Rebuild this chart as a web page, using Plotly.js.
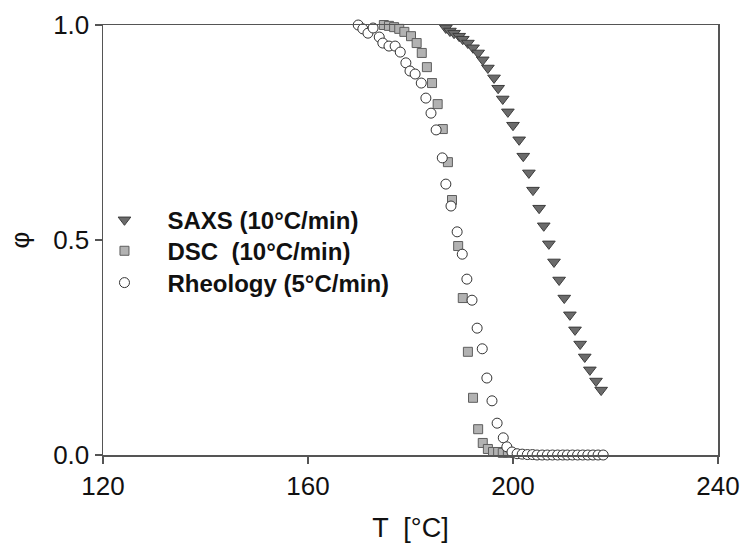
<!DOCTYPE html>
<html>
<head>
<meta charset="utf-8">
<script src="https://cdn.plot.ly/plotly-3.0.1.min.js"></script>
<style>html,body{margin:0;padding:0;background:#fff;}#chart{width:743px;height:553px;}</style>
</head>
<body>
<div id="chart"></div>
<script>
// SAXS (10°C/min)
const saxsT = [186.9,187.7,188.5,189.5,190.2,191.2,192.2,193.2,194.1,195.1,196.3,197.1,198.0,199.0,200.0,201.2,202.0,203.1,203.9,205.1,206.0,207.0,208.0,209.0,210.0,211.1,212.1,213.1,214.0,215.0,216.2,217.2];
const saxsPhi = [0.993,0.986,0.981,0.974,0.967,0.958,0.947,0.935,0.919,0.900,0.877,0.853,0.828,0.798,0.767,0.733,0.695,0.656,0.616,0.574,0.533,0.491,0.449,0.407,0.365,0.326,0.291,0.258,0.228,0.198,0.172,0.151];

// DSC (10°C/min)
const dscT = [174.8,175.8,176.8,177.8,178.8,180.1,181.2,182.2,183.2,184.2,185.3,186.3,187.3,188.1,189.3,190.2,191.2,192.2,193.2,194.1,195.1,196.1,197.1,198.0,199.0];
const dscPhi = [1.000,0.998,0.995,0.991,0.984,0.974,0.958,0.935,0.902,0.865,0.816,0.758,0.681,0.593,0.486,0.365,0.240,0.133,0.060,0.028,0.014,0.007,0.007,0.005,0.005];

// Rheology (5°C/min)
const rheoT = [169.8,170.7,171.7,172.7,173.9,174.6,175.8,177.0,178.0,179.1,179.9,180.9,182.1,183.0,184.0,185.0,186.2,186.9,187.9,189.1,190.1,191.0,192.0,193.0,194.0,194.9,195.9,196.9,198.1,198.8,199.8,200.8,201.8,202.8,203.8,204.7,205.7,206.7,207.7,208.7,209.7,210.6,211.6,212.6,213.6,214.6,215.6,216.6,217.6];
const rheoPhi = [1.000,0.991,0.981,0.993,0.972,0.958,0.951,0.951,0.937,0.912,0.893,0.886,0.865,0.830,0.795,0.756,0.691,0.630,0.579,0.519,0.467,0.409,0.360,0.295,0.247,0.179,0.126,0.074,0.040,0.019,0.007,0.003,0.002,0.001,0.001,0,0,0,0,0,0,0,0,0,0,0,0,0,0];

const names = ['SAXS (10°C/min)', 'DSC  (10°C/min)', 'Rheology (5°C/min)'];
const xTicks = [120,160,200,240];
const yTicks = [0,0.5,1.0];

const FONT = 'Liberation Sans, Arial, sans-serif';

const traces = [
  {x: saxsT, y: saxsPhi, name: names[0], type: 'scatter', mode: 'markers', cliponaxis: false, legend: 'legend',
   marker: {symbol: 'triangle-down', size: 11, color: '#6b6b6b', line: {color: '#3c3c3c', width: 1}}},
  {x: dscT, y: dscPhi, name: names[1], type: 'scatter', mode: 'markers', cliponaxis: false, legend: 'legend2',
   marker: {symbol: 'square', size: 9, color: '#b2b2b2', line: {color: '#5e5e5e', width: 1}}},
  {x: rheoT, y: rheoPhi, name: names[2], type: 'scatter', mode: 'markers', cliponaxis: false, legend: 'legend3',
   marker: {symbol: 'circle', size: 10, color: '#ffffff', line: {color: '#333333', width: 1}}}
];

const axisCommon = {
  showgrid: false, zeroline: false, showline: true, mirror: true,
  linecolor: '#555', linewidth: 1.5,
  ticks: 'outside', ticklen: 7, tickwidth: 1.5, tickcolor: '#555',
  tickfont: {family: FONT, size: 26, color: '#111'}
};

function legendAt(yPaper) {
  return {
    x: -0.035, y: yPaper, xanchor: 'left', yanchor: 'middle',
    bgcolor: 'rgba(0,0,0,0)', borderwidth: 0,
    itemwidth: 76, itemsizing: 'trace',
    font: {family: FONT, size: 24, color: '#111', weight: 'bold'}
  };
}

const layout = {
  width: 743, height: 553,
  margin: {l: 103, r: 25, t: 25, b: 98},
  paper_bgcolor: '#fff', plot_bgcolor: '#fff',
  showlegend: true,
  xaxis: Object.assign({}, axisCommon, {
    range: [120, 240], tickvals: xTicks, ticktext: xTicks.map(String),
    title: {text: 'T  [°C]', font: {family: FONT, size: 27, color: '#111'}, standoff: 18}
  }),
  yaxis: Object.assign({}, axisCommon, {
    range: [0, 1], tickvals: yTicks, ticktext: yTicks.map(v => v.toFixed(1)),
    title: {text: 'φ', font: {family: FONT, size: 26, color: '#111'}, standoff: 16}
  }),
  legend: legendAt(0.546),
  legend2: legendAt(0.474),
  legend3: legendAt(0.400)
};

Plotly.newPlot('chart', traces, layout, {displayModeBar: false, staticPlot: true});
</script>
</body>
</html>
